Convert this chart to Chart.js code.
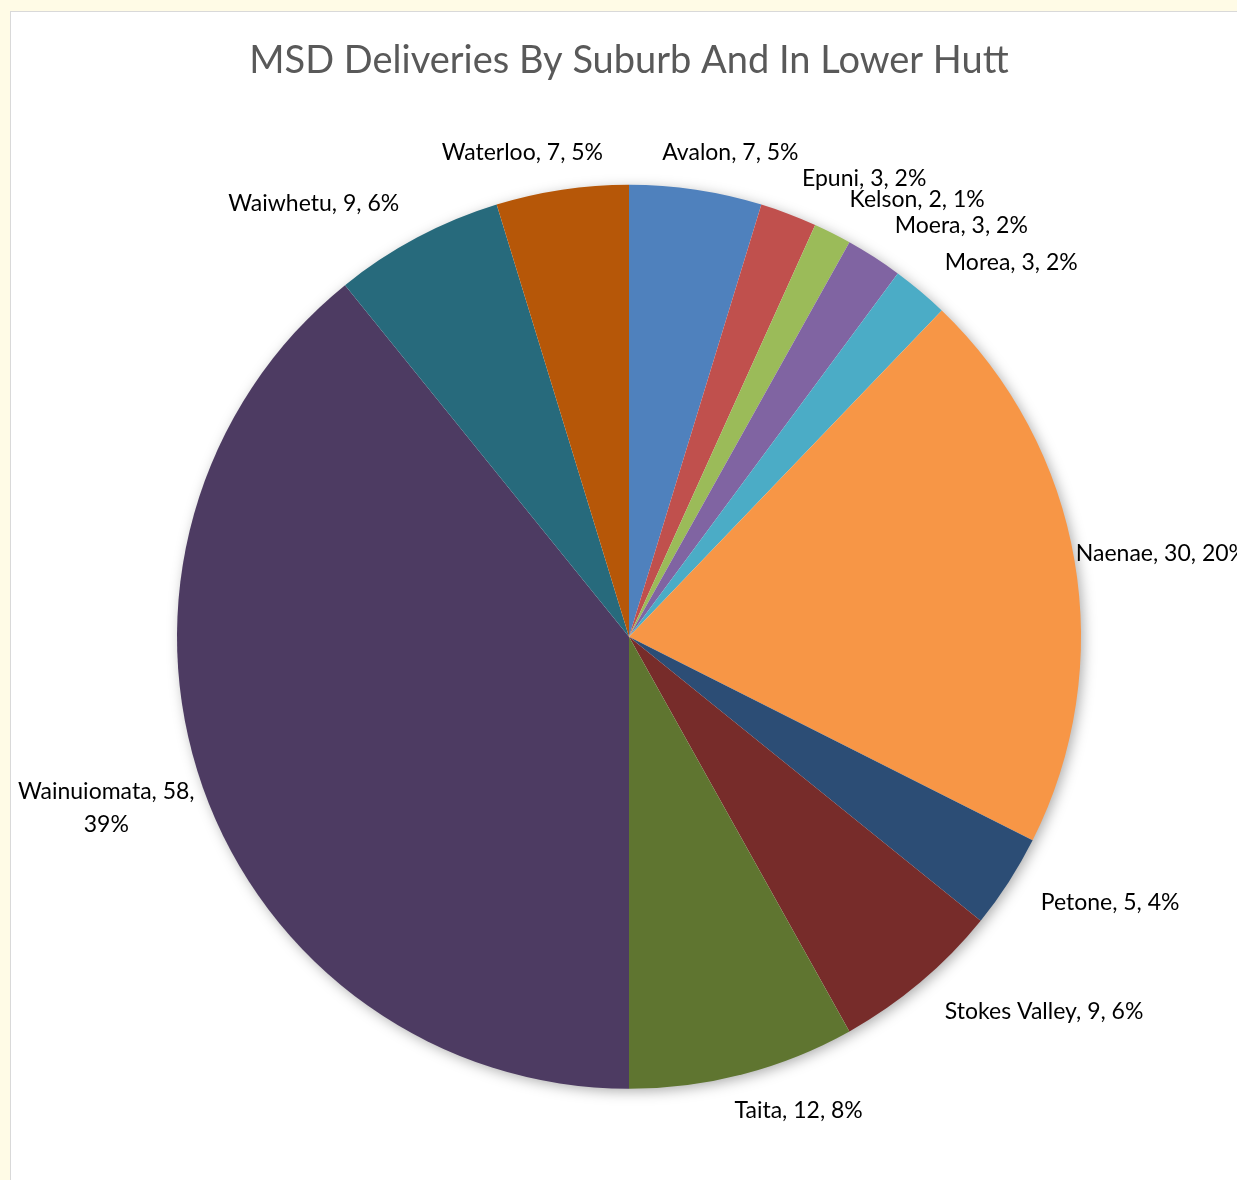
<!DOCTYPE html>
<html>
<head>
<meta charset="utf-8">
<script src="https://cdn.jsdelivr.net/npm/chart.js@4.4.0/dist/chart.umd.min.js"></script>
<style>
  html, body { margin: 0; padding: 0; }
  body { width: 1237px; height: 1180px; background: #FFFBE6; overflow: hidden; position: relative; }
  #frame { position: absolute; left: 10px; top: 11px; width: 1300px; height: 1250px; background: #fff; border: 1px solid #D9D9D9; }
  #wrap { position: absolute; left: 10px; top: 0; width: 1237px; height: 1180px; }
</style>
</head>
<body>
<div id="frame"></div>
<div id="wrap"><canvas id="pieChart" width="1237" height="1180"></canvas></div>
<script>
// Suburb data
const suburbs = ['Avalon', 'Epuni', 'Kelson', 'Moera', 'Morea', 'Naenae', 'Petone',
    'Stokes Valley', 'Taita', 'Wainuiomata', 'Waiwhetu', 'Waterloo'];
const deliveries = [7, 3, 2, 3, 3, 30, 5, 9, 12, 58, 9, 7];
const sliceColors = ['#4F81BD', '#C0504D', '#9BBB59', '#8064A2', '#4BACC6', '#F79646',
    '#2C4D75', '#772C2A', '#5F7530', '#4D3B62', '#276A7C', '#B65708'];

const total = deliveries.reduce((a, b) => a + b, 0);
const labelFont = '23px Lato, "Open Sans", sans-serif';

// whole percents that add up to 100 (largest remainder, like Excel)
function roundedPercents(vals) {
    const raw = vals.map(v => v / total * 100);
    const out = raw.map(Math.floor);
    let left = 100 - out.reduce((a, b) => a + b, 0);
    const order = raw.map((r, i) => i).sort((a, b) => (raw[b] - out[b]) - (raw[a] - out[a]));
    for (let k = 0; k < left; k++) out[order[k]] += 1;
    return out;
}
const percents = roundedPercents(deliveries);

// soft shadow under the pie, drawn before the slices
const pieShadow = {
    id: 'pieShadow',
    beforeDatasetsDraw(chart) {
        const arc = chart.getDatasetMeta(0).data[0];
        if (!arc) return;
        const ctx = chart.ctx;
        ctx.save();
        ctx.shadowColor = 'rgba(0,0,0,0.35)';
        ctx.shadowBlur = 14;
        ctx.shadowOffsetX = 3;
        ctx.shadowOffsetY = 3;
        ctx.fillStyle = '#fff';
        ctx.beginPath();
        ctx.arc(arc.x, arc.y, arc.outerRadius - 1, 0, Math.PI * 2);
        ctx.fill();
        ctx.restore();
    }
};

// outside-end labels: "Name, value, pct%"
const sliceLabels = {
    id: 'sliceLabels',
    afterDatasetsDraw(chart) {
        const ctx = chart.ctx;
        const arcs = chart.getDatasetMeta(0).data;
        ctx.save();
        ctx.font = labelFont;
        ctx.fillStyle = '#000';
        ctx.textBaseline = 'middle';
        ctx.textAlign = 'center';
        arcs.forEach((arc, i) => {
            const mid = (arc.startAngle + arc.endAngle) / 2;
            const ux = Math.cos(mid), uy = Math.sin(mid);
            const R = arc.outerRadius + 38;
            const ax = arc.x + R * ux;
            const ay = arc.y + R * uy;
            const pct = percents[i];
            let lines = [suburbs[i] + ', ' + deliveries[i] + ', ' + pct + '%'];
            let w = ctx.measureText(lines[0]).width;
            const f = Math.max(-1, Math.min(1, ux / 0.35));
            let cx = ax + f * w / 2;
            let cy = ay;
            if (cx - w / 2 < 8) {
                // too wide for the left side: wrap like Excel does
                lines = [suburbs[i] + ', ' + deliveries[i] + ',', pct + '%'];
                w = Math.max(...lines.map(t => ctx.measureText(t).width));
                cx = ax + f * w / 2;
                if (cx - w / 2 < 8) cx = 8 + w / 2;
                cy = ay + 8;
            }
            if (cx + w / 2 > chart.width) cx = chart.width - w / 2;
            const lh = 33;
            const y0 = cy - (lines.length - 1) * lh / 2;
            lines.forEach((t, k) => ctx.fillText(t, cx, y0 + k * lh));
        });
        ctx.restore();
    }
};

document.addEventListener('DOMContentLoaded', function() {
    const pieCtx = document.getElementById('pieChart');
    new Chart(pieCtx, {
        type: 'pie',
        data: {
            labels: suburbs,
            datasets: [{
                data: deliveries,
                backgroundColor: sliceColors,
                borderWidth: 0
            }]
        },
        options: {
            responsive: false,
            animation: false,
            layout: {
                padding: { top: 0, left: 167, right: 166, bottom: 91 }
            },
            plugins: {
                title: {
                    display: true,
                    text: 'MSD Deliveries By Suburb And In Lower Hutt',
                    color: '#595959',
                    font: { family: 'Lato, "Open Sans", sans-serif', size: 38, weight: 'normal' },
                    padding: { top: 38, bottom: 101 }
                },
                legend: { display: false },
                tooltip: { enabled: false }
            }
        },
        plugins: [pieShadow, sliceLabels]
    });
});
</script>
</body>
</html>
